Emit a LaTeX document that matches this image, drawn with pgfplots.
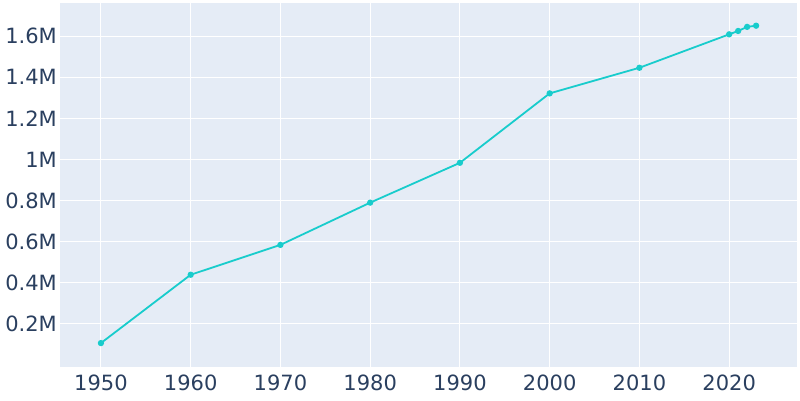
\documentclass[border=0pt]{standalone}
\usepackage{fontspec}
\setmainfont{DejaVu Sans}
\usepackage{pgfplots}
\pgfplotsset{compat=1.18}
\definecolor{bgc}{HTML}{E5ECF6}
\definecolor{txt}{HTML}{2A3F5F}
\definecolor{ln}{RGB}{24,204,204}
\begin{document}
\begin{tikzpicture}[x=1bp,y=1bp]
\useasboundingbox (0,0) rectangle (800,400);
\begin{axis}[
  at={(60bp,33bp)}, anchor=south west,
  scale only axis, width=737bp, height=364bp,
  xmin=1945.44, xmax=2027.56,
  ymin=-0.0095, ymax=1.7605,
  axis background/.style={fill=bgc},
  axis line style={draw=none},
  major tick length=0pt,
  grid=major,
  major grid style={white, line width=1bp},
  xtick={1950,1960,1970,1980,1990,2000,2010,2020},
  xticklabels={1950,1960,1970,1980,1990,2000,2010,2020},
  ytick={0.2,0.4,0.6,0.8,1,1.2,1.4,1.6},
  yticklabels={0.2M,0.4M,0.6M,0.8M,1M,1.2M,1.4M,1.6M},
  tick label style={font=\fontsize{21bp}{23bp}\selectfont, text=txt, inner sep=0pt},
  xticklabel style={anchor=north, yshift=-8bp},
  yticklabel style={anchor=east, xshift=-3bp},
  clip=false,
]
\addplot[ln, line width=1.8bp, mark=*, mark size=2.2bp, mark options={fill=ln, draw=ln}]
coordinates {
(1950,0.106818) (1960,0.439170) (1970,0.584303) (1980,0.789704) (1990,0.983403)
(2000,1.321045) (2010,1.445632) (2020,1.608139) (2021,1.624569) (2022,1.644409) (2023,1.650070)
};
\end{axis}
\end{tikzpicture}
\end{document}
